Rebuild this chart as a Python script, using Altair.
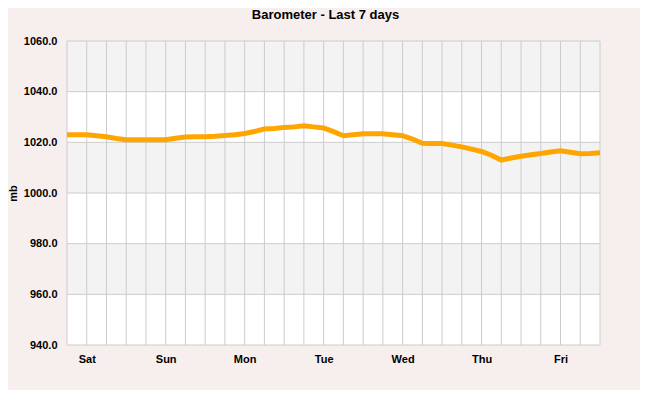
import pandas as pd
import altair as alt

# barometer readings, every 3 hours from Fri 18:00
pressure = [
    1023.0, 1023.0, 1023.0, 1022.6, 1022.2, 1021.5, 1021.0, 1021.0, 1021.0, 1021.0,
    1021.0, 1021.6, 1022.1, 1022.2, 1022.2, 1022.4, 1022.7, 1023.0, 1023.5, 1024.3,
    1025.3, 1025.5, 1025.9, 1026.1, 1026.5, 1026.1, 1025.7, 1024.2, 1022.6, 1023.0,
    1023.4, 1023.4, 1023.4, 1023.0, 1022.6, 1021.3, 1019.6, 1019.5, 1019.5, 1018.9,
    1018.2, 1017.3, 1016.4, 1014.9, 1013.0, 1013.8, 1014.5, 1015.1, 1015.6, 1016.2,
    1016.7, 1016.1, 1015.5, 1015.6, 1015.9,
]
start = pd.Timestamp("2024-03-01T18:00:00")
end = pd.Timestamp("2024-03-08T12:00:00")
times = pd.date_range(start, periods=len(pressure), freq="3h")

band_lo = [1040, 1000, 960]
band_hi = [1060, 1020, 980]
y_ticks = [940, 960, 980, 1000, 1020, 1040, 1060]

df = pd.DataFrame({"time": times, "mb": pressure})
bands = pd.DataFrame({"lo": band_lo, "hi": band_hi, "t0": start, "t1": end})
grid_t = pd.date_range(start, end, freq="6h")
vgrid = pd.DataFrame({"t": grid_t})
hgrid = pd.DataFrame({"v": y_ticks})
grid_times = [t.isoformat() for t in grid_t]

x_scale = alt.Scale(type="utc", domain=[start.isoformat(), end.isoformat()], nice=False)
y_scale = alt.Scale(domain=[940, 1060], nice=False)

x_axis = alt.Axis(
    values=grid_times,
    labelExpr="utchours(datum.value) == 0 ? utcFormat(datum.value, '%a') : ''",
    labelPadding=8,
    labelAngle=0,
)
y_axis = alt.Axis(values=y_ticks, format=".1f", labelPadding=10, titlePadding=5)

band_layer = alt.Chart(bands).mark_rect(color="#f3f3f3").encode(
    x=alt.X("t0:T", scale=x_scale, axis=x_axis, title=None),
    x2="t1:T",
    y=alt.Y("lo:Q", scale=y_scale, axis=y_axis, title="mb"),
    y2="hi:Q",
)

vlines = alt.Chart(vgrid).mark_rule(color="#cccccc", strokeWidth=1).encode(
    x=alt.X("t:T", scale=x_scale, axis=x_axis, title=None),
)

hlines = alt.Chart(hgrid).mark_rule(color="#cccccc", strokeWidth=1).encode(
    y=alt.Y("v:Q", scale=y_scale, axis=y_axis, title="mb"),
)

line = alt.Chart(df).mark_line(color="#ffa500", strokeWidth=5, clip=True).encode(
    x=alt.X("time:T", scale=x_scale, axis=x_axis, title=None),
    y=alt.Y("mb:Q", scale=y_scale, axis=y_axis, title="mb"),
)

chart = alt.layer(band_layer, vlines, hlines, line).properties(
    width=533,
    height=304,
    autosize=alt.AutoSizeParams(type="none"),
    padding={"left": 59, "top": 33, "right": 40, "bottom": 45},
    background="#f7efed",
    title=alt.Title(
        "Barometer - Last 7 days",
        font="Liberation Sans",
        fontSize=13,
        fontWeight="bold",
        color="#000000",
        offset=13,
        dx=-8,
    ),
).configure_view(
    stroke=None, fill="#ffffff"
).configure_axis(
    grid=False,
    ticks=False,
    domain=False,
    labelFont="Liberation Sans",
    labelFontSize=11,
    labelFontWeight="bold",
    labelColor="#000000",
    titleFont="Liberation Sans",
    titleFontSize=11,
    titleFontWeight="bold",
    titleColor="#000000",
)

chart.save("out.html", embed_options={"renderer": "svg", "actions": False})
